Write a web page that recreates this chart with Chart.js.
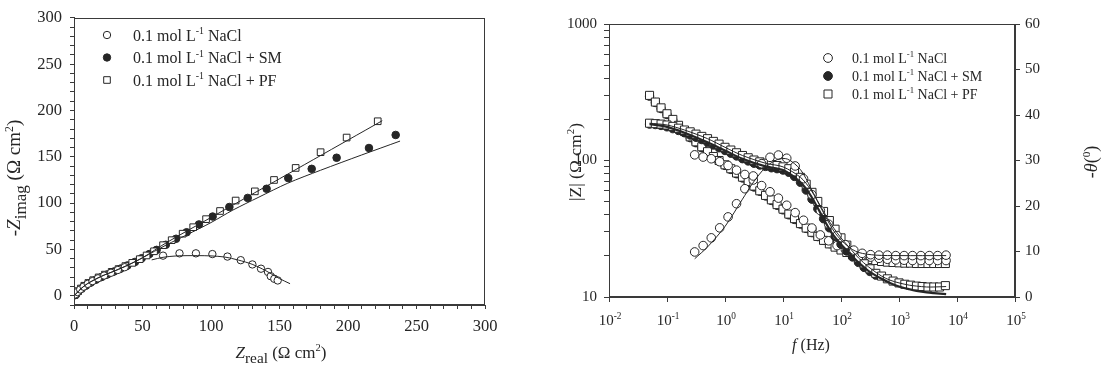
<!DOCTYPE html>
<html>
<head>
<meta charset="utf-8">
<script src="https://cdn.jsdelivr.net/npm/chart.js@4/dist/chart.umd.min.js"></script>
<style>
  html, body { margin: 0; padding: 0; background: #fff; }
  #wrap { position: relative; width: 1108px; height: 368px; overflow: hidden; }
  #nyq { position: absolute; left: 0; top: 0; }
  #bode { position: absolute; left: 550px; top: 0; }
</style>
</head>
<body>
<div id="wrap">
  <canvas id="nyq" width="545" height="368"></canvas>
  <canvas id="bode" width="558" height="368"></canvas>
</div>
<script>
// ---- Nyquist data (Zreal, -Zimag in ohm cm2) ----
const nyqNaClRe = [1, 2.5, 4.5, 7, 10, 13.5, 17.5, 22, 27, 32, 37, 65, 77, 89, 101, 112, 121.7, 130.2, 136.5, 141.6, 143.6, 146.2, 148.7];
const nyqNaClIm = [1.5, 4, 6.8, 9.8, 12.8, 15.8, 18.8, 21.8, 24.8, 27.8, 30.8, 43.3, 45.8, 45.8, 45, 42.3, 38.4, 33.8, 29.2, 25.7, 21.1, 18.3, 16.5];
const nyqSMRe = [0.5, 1.5, 3.2, 5.6, 8.8, 12.2, 16, 20.2, 24.3, 29.2, 34, 39, 44.5, 49.4, 55, 60.3, 67, 74.5, 82.2, 91.2, 101.2, 113.4, 126.8, 140.6, 156.4, 173.5, 191.7, 215.3, 234.8];
const nyqSMIm = [0.5, 1.8, 4.5, 7.8, 11, 14.2, 17.3, 20.3, 23, 26.2, 29.3, 32.7, 36.5, 40.5, 45, 49.5, 55, 61.5, 68.5, 77, 85.5, 95.8, 105.6, 115.5, 127, 137, 149, 159.5, 173.6];
const nyqPFRe = [0.5, 1.5, 3, 5, 7.5, 10.5, 14, 18, 22.5, 27.5, 32.5, 37.5, 42.5, 48, 53, 58.4, 65, 71.3, 79.3, 87, 96.4, 106.6, 118, 132, 146, 161.8, 180, 199, 221.7];
const nyqPFIm = [0.8, 2.5, 5, 7.8, 10.8, 13.8, 16.8, 19.8, 22.8, 25.8, 28.8, 32, 35.5, 39.5, 43.5, 48, 54.6, 60, 67, 74, 82.7, 91.5, 102.8, 112.7, 125, 138, 155, 170.8, 188.4];
// fitted curves
const fitNaClRe = [56.7, 65, 75, 90, 100, 110, 120, 130, 140, 150, 157.7];
const fitNaClIm = [38.7, 41.5, 43, 43.3, 43, 41.8, 38.5, 34, 27, 18.5, 13];
const fitSMRe = [0, 2, 5, 10, 20, 30, 40, 50, 67.6, 82, 100, 116, 135, 156, 180, 210, 238];
const fitSMIm = [0, 3, 7.5, 13.2, 21, 27, 33.5, 41, 55, 65.5, 79, 92.5, 106.5, 121.5, 135.5, 152, 167];
const fitPFRe = [0, 2, 5, 10, 20, 30, 40, 50, 67.6, 100, 150, 200, 225];
const fitPFIm = [0, 3, 7.5, 13.2, 21, 27, 33.5, 41, 57.4, 84.5, 126.3, 168.1, 189];

// ---- Bode data ----
const freqA = [0.05, 0.063, 0.079, 0.1, 0.126, 0.158, 0.2, 0.251, 0.316, 0.398,
  0.5, 0.63, 0.79, 1, 1.26, 1.58, 2, 2.51, 3.16, 3.98,
  5, 6.3, 7.9, 10, 12.6, 15.8, 20, 25.1, 31.6, 39.8,
  50, 63, 79, 100, 126, 158, 200, 251, 316, 398,
  500, 630, 790, 1000, 1260, 1580, 2000, 2510, 3160, 3980,
  5000, 6300];
const zmodPF = [300, 268, 243, 220, 200, 181, 163, 149, 137, 126,
  116, 107, 100, 93, 87, 81, 75.5, 70, 65, 60,
  55.5, 51.5, 47.5, 44, 40.5, 37.5, 34.5, 32, 29.8, 27.8,
  26, 24.5, 23.2, 22.1, 21.2, 20.4, 19.8, 19.2, 18.8, 18.5,
  18.2, 18, 17.9, 17.8, 17.7, 17.7, 17.6, 17.6, 17.6, 17.6,
  17.6, 17.6];
const zmodSM = [296, 266, 240, 217, 197, 179, 161, 147, 135, 124,
  114, 105.5, 98.5, 92, 86, 80, 74.5, 69, 64, 59.5,
  55, 51, 47, 43.5, 40, 37, 34.2, 31.8, 29.6, 27.7,
  26, 24.6, 23.4, 22.3, 21.4, 20.7, 20.1, 19.6, 19.2, 18.9,
  18.6, 18.4, 18.3, 18.2, 18.1, 18.1, 18.1, 18, 18, 18,
  18, 18];
const phasePF = [38.2, 38.1, 38, 37.8, 37.5, 37.1, 36.7, 36.3, 35.8, 35.3,
  34.8, 34.2, 33.6, 32.9, 32.3, 31.7, 31.1, 30.6, 30.1, 29.7,
  29.4, 29.1, 28.9, 28.6, 28.2, 27.5, 26.3, 24.8, 23, 21,
  18.8, 16.8, 14.9, 13, 11.4, 10, 8.6, 7.3, 6.2, 5.2,
  4.6, 4, 3.5, 3.1, 2.8, 2.6, 2.4, 2.3, 2.2, 2.2,
  2.2, 2.5];
const phaseSM = [38, 37.9, 37.7, 37.4, 37, 36.6, 36.1, 35.6, 35.1, 34.6,
  34, 33.4, 32.8, 32.2, 31.6, 31, 30.4, 29.9, 29.4, 29,
  28.7, 28.4, 28.2, 27.9, 27.4, 26.5, 25.2, 23.5, 21.5, 19.4,
  17.2, 15.2, 13.3, 11.6, 10.1, 8.8, 7.6, 6.5, 5.6, 4.8];
const freqNaCl = [0.3, 0.42, 0.58, 0.81, 1.13, 1.58, 2.2, 3.07, 4.28, 5.97,
  8.33, 11.6, 16.2, 22.6, 31.5, 44, 61.3, 85.5, 119, 166,
  232, 324, 452, 630, 879, 1226, 1710, 2385, 3327, 4640, 6470];
const zmodNaCl = [110, 106, 103, 98, 92, 85, 79, 72, 65.5, 59,
  53, 47, 41.5, 36.5, 32, 28.5, 25.8, 23.8, 22.2, 21,
  20.2, 19.6, 19.2, 18.9, 18.7, 18.6, 18.5, 18.5, 18.5, 18.5, 18.5];
const phaseNaCl = [9.9, 11.3, 13, 15.2, 17.6, 20.5, 23.8, 26.6, 29.3, 30.7,
  31.2, 30.5, 28.8, 26, 22.5, 19, 16, 13.5, 11.5, 10.3,
  9.6, 9.3, 9.2, 9.2, 9.1, 9.1, 9.1, 9.1, 9.1, 9.1, 9.2];
// fitted phase curves
const fitFreq = [0.05, 0.1, 0.2, 0.5, 1, 2, 5, 10, 20, 30, 50, 70, 100, 150, 200, 300, 500, 700, 1000, 1500, 2000, 3000, 4000, 6500];
const fitPhaseSM = [38, 37.4, 36.1, 34, 32.2, 30.4, 28.7, 27.9, 25.2, 22.3, 17.2, 14, 11.6, 9.2, 7.6, 5.7, 4, 3.1, 2.3, 1.7, 1.35, 1, 0.85, 0.65];
const fitPhasePF = [38.2, 37.8, 36.7, 34.8, 32.9, 31.1, 29.4, 28.6, 26.3, 23.6, 18.8, 15.7, 13, 10.4, 8.6, 6.6, 4.6, 3.7, 3.1, 2.6, 2.4, 2.2, 2.2, 2.3];
const fitFreqNaCl = [0.3, 0.5, 1, 2, 3, 5, 8, 12, 20, 30, 50, 80, 130, 200, 400, 1000, 6500];
const fitPhaseNaCl = [8.4, 11, 15.5, 21.5, 25, 28.5, 30.2, 30.3, 28, 24, 18.5, 14, 11.2, 9.8, 9.2, 9.1, 9.1];

const xDecades = [-2, -1, 0, 1, 2, 3, 4, 5];
const legendLabels = ['NaCl', 'NaCl + SM', 'NaCl + PF'];

const FONT = "'Liberation Serif', 'Times New Roman', serif";
const INK = '#262626';
const LINE = '#3a3a3a';

function zip(xs, ys) {
  return xs.map((x, i) => ({ x: x, y: ys[i] }));
}

function segFont(s, size) {
  const sz = s.sup ? size * 0.62 : s.sub ? size * 0.9 : size;
  return (s.it ? 'italic ' : '') + sz + 'px ' + FONT;
}

function drawRich(ctx, segs, x, y, size, align) {
  let w = 0;
  for (const s of segs) {
    ctx.font = segFont(s, size);
    w += ctx.measureText(s.t).width;
  }
  let cx = align === 'left' ? x : x - w / 2;
  ctx.textAlign = 'left';
  ctx.textBaseline = 'alphabetic';
  ctx.fillStyle = INK;
  for (const s of segs) {
    ctx.font = segFont(s, size);
    const dy = s.sup ? -size * 0.4 : s.sub ? size * 0.3 : 0;
    ctx.fillText(s.t, cx, y + dy);
    cx += ctx.measureText(s.t).width;
  }
}

function drawRotated(ctx, segs, cx, cy, size, angle) {
  ctx.save();
  ctx.translate(cx, cy);
  ctx.rotate(angle);
  drawRich(ctx, segs, 0, size * 0.33, size, 'center');
  ctx.restore();
}

function drawMarker(ctx, style, x, y, r, filled) {
  ctx.save();
  ctx.lineWidth = 1;
  ctx.strokeStyle = INK;
  ctx.fillStyle = filled ? INK : '#fff';
  ctx.beginPath();
  if (style === 'rect') ctx.rect(x - r, y - r, 2 * r, 2 * r);
  else ctx.arc(x, y, r, 0, Math.PI * 2);
  ctx.fill();
  ctx.stroke();
  ctx.restore();
}

function legendSegs(label) {
  const rest = label.replace('NaCl', '');
  return [{ t: '0.1 mol L' }, { t: '-1', sup: true }, { t: ' NaCl' + rest }];
}

function drawFrame(chart) {
  const a = chart.chartArea;
  const ctx = chart.ctx;
  ctx.save();
  ctx.strokeStyle = LINE;
  ctx.lineWidth = 1;
  ctx.strokeRect(Math.round(a.left) + 0.5, Math.round(a.top) + 0.5,
    Math.round(a.right - a.left) - 1, Math.round(a.bottom - a.top) - 1);
  ctx.restore();
}

const markerStyles = [
  { style: 'circle', filled: false },
  { style: 'circle', filled: true },
  { style: 'rect', filled: false }
];

function scatterSet(data, m, r, order, yAxisID) {
  const ds = {
    data: data,
    showLine: false,
    pointStyle: m.style,
    pointRadius: r,
    pointBorderWidth: 1,
    pointBorderColor: INK,
    pointBackgroundColor: m.filled ? INK : '#fff',
    order: order
  };
  if (yAxisID) ds.yAxisID = yAxisID;
  return ds;
}

function lineSet(data, width, order, yAxisID) {
  const ds = {
    data: data,
    showLine: true,
    borderColor: INK,
    borderWidth: width,
    pointRadius: 0,
    tension: 0.3,
    order: order
  };
  if (yAxisID) ds.yAxisID = yAxisID;
  return ds;
}

const tickFontL = { family: FONT, size: 16.5 };
const tickFontR = { family: FONT, size: 15 };

// ---- left: Nyquist ----
const nyqDecor = {
  id: 'nyqDecor',
  afterDraw(chart) {
    const ctx = chart.ctx;
    drawFrame(chart);
    drawRotated(ctx, [{ t: '-' }, { t: 'Z', it: true }, { t: 'imag', sub: true }, { t: ' (\u03A9 cm' }, { t: '2', sup: true }, { t: ')' }],
      14, 178, 19, -Math.PI / 2);
    drawRich(ctx, [{ t: 'Z', it: true }, { t: 'real', sub: true }, { t: ' (\u03A9 cm' }, { t: '2', sup: true }, { t: ')' }],
      281, 358, 17, 'center');
    legendLabels.forEach((lab, i) => {
      const y = 35 + i * 22.5;
      drawMarker(ctx, markerStyles[i].style, 107, y, markerStyles[i].style === 'rect' ? 3.3 : 3.7, markerStyles[i].filled);
      drawRich(ctx, legendSegs(lab), 133, y + 5.5, 16, 'left');
    });
  }
};

new Chart(document.getElementById('nyq'), {
  type: 'scatter',
  data: {
    datasets: [
      lineSet(zip(fitNaClRe, fitNaClIm), 1, 0),
      lineSet(zip(fitSMRe, fitSMIm), 1, 0),
      lineSet(zip(fitPFRe, fitPFIm), 1, 0),
      scatterSet(zip(nyqSMRe, nyqSMIm), markerStyles[1], 3.8, 3),
      scatterSet(zip(nyqPFRe, nyqPFIm), markerStyles[2], 4.7, 2),
      scatterSet(zip(nyqNaClRe, nyqNaClIm), markerStyles[0], 3.7, 1)
    ]
  },
  options: {
    responsive: false,
    animation: false,
    layout: { padding: { top: 11, right: 60, left: 0, bottom: 0 } },
    plugins: { legend: { display: false }, tooltip: { enabled: false } },
    scales: {
      x: {
        type: 'linear', min: 0, max: 300,
        afterFit(s) { s.height = 63; },
        ticks: { stepSize: 10, autoSkip: false, maxRotation: 0, padding: 8, color: INK, font: tickFontL,
          callback: v => (v % 50 === 0 ? String(v) : '') },
        grid: { drawOnChartArea: false, tickLength: 4, color: LINE },
        border: { color: LINE }
      },
      y: {
        type: 'linear', min: -10, max: 300,
        afterFit(s) { s.width = 74; },
        ticks: { stepSize: 10, autoSkip: false, padding: 8, color: INK, font: tickFontL,
          callback: v => (v >= 0 && v % 50 === 0 ? String(v) : '') },
        grid: { drawOnChartArea: false, tickLength: 4, color: LINE },
        border: { color: LINE }
      }
    }
  },
  plugins: [nyqDecor]
});

// ---- right: Bode ----
const bodeDecor = {
  id: 'bodeDecor',
  afterDraw(chart) {
    const ctx = chart.ctx;
    drawFrame(chart);
    const xs = chart.scales.x;
    const base = chart.chartArea.bottom + 28;
    xDecades.forEach(e => {
      const px = xs.getPixelForValue(Math.pow(10, e));
      drawRich(ctx, [{ t: '10' }, { t: String(e), sup: true }], px + 1, base, 15, 'center');
    });
    drawRotated(ctx, [{ t: '|Z| (\u03A9 cm' }, { t: '2', sup: true }, { t: ')' }], 25, 162, 17.5, -Math.PI / 2);
    drawRotated(ctx, [{ t: '-' }, { t: '\u03B8', it: true }, { t: '(' }, { t: '0', sup: true }, { t: ')' }], 541, 162, 18, -Math.PI / 2);
    drawRich(ctx, [{ t: 'f', it: true }, { t: ' (Hz)' }], 261, 350, 16, 'center');
    legendLabels.forEach((lab, i) => {
      const y = 58 + i * 18;
      drawMarker(ctx, markerStyles[i].style, 278, y, markerStyles[i].style === 'rect' ? 4 : 4.4, markerStyles[i].filled);
      drawRich(ctx, legendSegs(lab), 302, y + 5, 14, 'left');
    });
  }
};

new Chart(document.getElementById('bode'), {
  type: 'scatter',
  data: {
    datasets: [
      lineSet(zip(fitFreqNaCl, fitPhaseNaCl), 1, 0, 'y2'),
      lineSet(zip(fitFreq, fitPhaseSM), 2.2, 0, 'y2'),
      lineSet(zip(fitFreq, fitPhasePF), 1, 0, 'y2'),
      scatterSet(zip(freqA, zmodSM), markerStyles[1], 4.2, 8, 'y'),
      scatterSet(zip(freqA, zmodPF), markerStyles[2], 5.7, 7, 'y'),
      scatterSet(zip(freqNaCl, zmodNaCl), markerStyles[0], 4.3, 6, 'y'),
      scatterSet(zip(freqA.slice(0, phaseSM.length), phaseSM), markerStyles[1], 4.2, 5, 'y2'),
      scatterSet(zip(freqA, phasePF), markerStyles[2], 5.7, 4, 'y2'),
      scatterSet(zip(freqNaCl, phaseNaCl), markerStyles[0], 4.3, 3, 'y2')
    ]
  },
  options: {
    responsive: false,
    animation: false,
    layout: { padding: { top: 24, right: 0, left: 0, bottom: 0 } },
    plugins: { legend: { display: false }, tooltip: { enabled: false } },
    scales: {
      x: {
        type: 'logarithmic', min: 0.01, max: 100000,
        afterBuildTicks(s) { s.ticks = xDecades.map(e => ({ value: Math.pow(10, e) })); },
        afterFit(s) { s.height = 71; },
        ticks: { autoSkip: false, maxRotation: 0, callback: () => '' },
        grid: { drawOnChartArea: false, tickLength: 5, color: LINE },
        border: { color: LINE }
      },
      y: {
        type: 'logarithmic', min: 10, max: 1000, position: 'left',
        afterBuildTicks(s) {
          const t = [];
          [10, 100].forEach(d => { for (let k = 1; k < 10; k++) t.push({ value: d * k }); });
          t.push({ value: 1000 });
          s.ticks = t;
        },
        afterFit(s) { s.width = 59; },
        ticks: { autoSkip: false, padding: 7, color: INK, font: tickFontR,
          callback: v => ([10, 100, 1000].includes(v) ? String(v) : '') },
        grid: { drawOnChartArea: false, tickLength: 5, color: LINE },
        border: { color: LINE }
      },
      y2: {
        type: 'linear', min: 0, max: 60, position: 'right',
        afterFit(s) { s.width = 93; },
        ticks: { stepSize: 10, autoSkip: false, padding: 5, color: INK, font: tickFontR },
        grid: { drawOnChartArea: false, tickLength: 5, color: LINE },
        border: { color: LINE }
      }
    }
  },
  plugins: [bodeDecor]
});
</script>
</body>
</html>
